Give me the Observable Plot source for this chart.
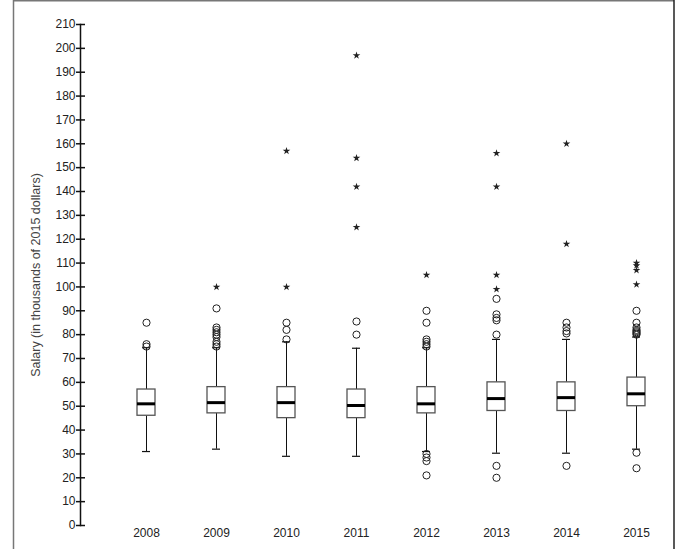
<!DOCTYPE html>
<html>
<head>
<meta charset="utf-8">
<script src="https://cdn.jsdelivr.net/npm/d3@7"></script>
<script src="https://cdn.jsdelivr.net/npm/@observablehq/plot@0.6"></script>
<style>
  html, body { margin: 0; padding: 0; background: #fff; }
  #chart { width: 680px; height: 549px; overflow: hidden; }
</style>
</head>
<body>
<div id="chart"></div>
<script>
// ---- data ----
const years        = ["2008", "2009", "2010", "2011", "2012", "2013", "2014", "2015"];
const lowerWhisker = [31, 32, 29, 29, 31, 30.3, 30.3, 32];
const q1           = [46, 47, 45, 45, 47, 48, 48, 50];
const median       = [51, 51.5, 51.5, 50.3, 51, 53.2, 53.6, 55.2];
const q3           = [57, 58, 58, 57, 58, 60, 60, 62];
const upperWhisker = [74.5, 74.5, 77, 74.3, 74.5, 78, 78, 79];

// mild outliers (circles)
const circleYear = [
  "2008","2008","2008",
  "2009","2009","2009","2009","2009","2009","2009","2009","2009",
  "2010","2010","2010",
  "2011","2011",
  "2012","2012","2012","2012","2012","2012","2012","2012","2012","2012",
  "2013","2013","2013","2013","2013","2013","2013",
  "2014","2014","2014","2014","2014",
  "2015","2015","2015","2015","2015","2015","2015","2015","2015","2015"
];
const circleValue = [
  75, 76, 85,
  75, 76, 77, 79, 80, 81, 82, 83, 91,
  78, 82, 85,
  80, 85.5,
  75, 76, 77, 78, 85, 90, 30, 28.5, 27, 21,
  80, 86, 87, 88.5, 95, 25, 20,
  80.5, 81.5, 83, 85, 25,
  80, 80.5, 81, 81.5, 82, 83, 85, 90, 30.5, 24
];

// extreme outliers (stars)
const starYear  = ["2009", "2010", "2010", "2011", "2011", "2011", "2011", "2012", "2013", "2013", "2013", "2013", "2014", "2014", "2015", "2015", "2015", "2015"];
const starValue = [100, 100, 157, 125, 142, 154, 197, 105, 99, 105, 142, 156, 118, 160, 101, 107, 109, 110];

const yTicks = d3.range(0, 211, 10);
const yLabel = "Salary (in thousands of 2015 dollars)";

// ---- derived tables ----
const stats = years.map((y, i) => ({
  year: y, lo: lowerWhisker[i], q1: q1[i], med: median[i], q3: q3[i], hi: upperWhisker[i]
}));
const circles = circleYear.map((y, i) => ({year: y, value: circleValue[i]}));
const stars = starYear.map((y, i) => ({year: y, value: starValue[i]}));

const boxInset = 26;   // box width 18 in a 70 px band
const capInset = 31;   // cap width 8

const chart = Plot.plot({
  width: 680,
  height: 549,
  marginTop: 24,
  marginBottom: 24,
  marginLeft: 80,
  marginRight: 9,
  style: {fontFamily: "'Liberation Sans', Arial, sans-serif", fontSize: "12px", color: "#222", background: "#fff"},
  x: {type: "band", domain: years, range: [111, 671], padding: 0, label: null},
  y: {domain: [0, 210], label: null},
  marks: [
    // whiskers
    Plot.ruleX(stats, {x: "year", y1: "lo", y2: "q1", stroke: "#111", strokeWidth: 1}),
    Plot.ruleX(stats, {x: "year", y1: "q3", y2: "hi", stroke: "#111", strokeWidth: 1}),
    Plot.tickY(stats, {x: "year", y: "lo", insetLeft: capInset, insetRight: capInset, stroke: "#111", strokeWidth: 1.2}),
    Plot.tickY(stats, {x: "year", y: "hi", insetLeft: capInset, insetRight: capInset, stroke: "#111", strokeWidth: 1.2}),
    // box
    Plot.barY(stats, {x: "year", y1: "q1", y2: "q3", insetLeft: boxInset, insetRight: boxInset, fill: "#fff", stroke: "#555", strokeWidth: 1.3}),
    // median
    Plot.tickY(stats, {x: "year", y: "med", insetLeft: boxInset, insetRight: boxInset, stroke: "#000", strokeWidth: 3}),
    // outliers
    Plot.dot(circles, {x: "year", y: "value", r: 3.6, stroke: "#222", fill: "none", strokeWidth: 1}),
    Plot.dot(stars, {x: "year", y: "value", symbol: "star", r: 2.4, fill: "#222", stroke: "none"}),
    // axes
    Plot.frame({anchor: "left", stroke: "#111", strokeWidth: 1.5}),
    Plot.axisY({ticks: yTicks, tickSize: 9, dx: 5, tickFormat: () => "", stroke: "#111", strokeWidth: 1.5}),
    Plot.axisY({ticks: yTicks, tickSize: 0, tickPadding: 5, fill: "#222", label: null}),
    Plot.axisX({tickSize: 0, tickPadding: 3, fill: "#222", label: null}),
    Plot.text([yLabel], {frameAnchor: "left", textAnchor: "middle", dx: -45, rotate: -90, fontSize: 12.5, fill: "#444"})
  ]
});

document.getElementById("chart").appendChild(chart);

// outer border of the figure (decoration)
const svg = d3.select(chart);
svg.append("line").attr("x1", 13.5).attr("x2", 13.5).attr("y1", 0).attr("y2", 549).attr("stroke", "#777").attr("stroke-width", 1.5);
svg.append("line").attr("x1", 13).attr("x2", 674).attr("y1", 0.75).attr("y2", 0.75).attr("stroke", "#777").attr("stroke-width", 1.5);
svg.append("line").attr("x1", 674).attr("x2", 674).attr("y1", 0).attr("y2", 549).attr("stroke", "#222").attr("stroke-width", 1.5);
</script>
</body>
</html>
